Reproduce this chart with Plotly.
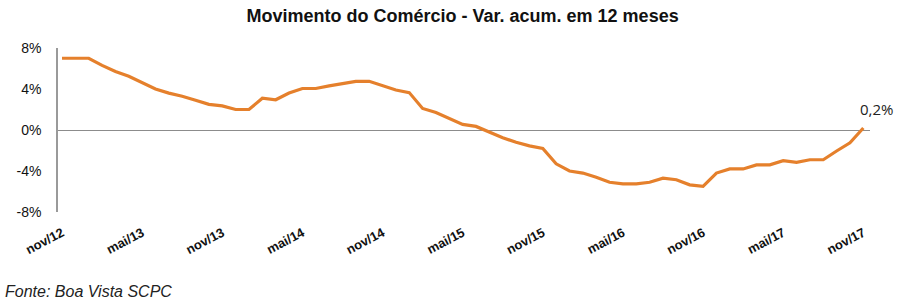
import plotly.graph_objects as go

months = ["nov/12","dez/12","jan/13","fev/13","mar/13","abr/13","mai/13","jun/13","jul/13","ago/13","set/13","out/13",
          "nov/13","dez/13","jan/14","fev/14","mar/14","abr/14","mai/14","jun/14","jul/14","ago/14","set/14","out/14",
          "nov/14","dez/14","jan/15","fev/15","mar/15","abr/15","mai/15","jun/15","jul/15","ago/15","set/15","out/15",
          "nov/15","dez/15","jan/16","fev/16","mar/16","abr/16","mai/16","jun/16","jul/16","ago/16","set/16","out/16",
          "nov/16","dez/16","jan/17","fev/17","mar/17","abr/17","mai/17","jun/17","jul/17","ago/17","set/17","out/17",
          "nov/17"]
values = [7.0, 7.0, 7.0, 6.3, 5.7, 5.25, 4.6, 4.0, 3.6, 3.3, 2.9, 2.5,
          2.35, 2.0, 2.0, 3.1, 2.95, 3.6, 4.05, 4.05, 4.3, 4.5, 4.75, 4.75,
          4.35, 3.9, 3.65, 2.1, 1.7, 1.15, 0.55, 0.35, -0.2, -0.75, -1.2, -1.55,
          -1.8, -3.3, -4.0, -4.2, -4.6, -5.1, -5.25, -5.25, -5.1, -4.7, -4.85, -5.35,
          -5.5, -4.2, -3.8, -3.8, -3.4, -3.4, -3.0, -3.15, -2.9, -2.9, -2.05, -1.25,
          0.2]
tick_labels = ["nov/12","mai/13","nov/13","mai/14","nov/14","mai/15","nov/15","mai/16","nov/16","mai/17","nov/17"]
y_ticks = [-8, -4, 0, 4, 8]
last_label = "0,2%"

x = list(range(len(months)))
tickvals = [months.index(t) for t in tick_labels]

fig = go.Figure()
fig.add_trace(go.Scatter(x=x, y=values, mode="lines",
                         line=dict(color="#E5802C", width=3.2),
                         hoverinfo="skip", cliponaxis=False))

fig.add_annotation(x=x[-1], y=values[-1], text=last_label, showarrow=False,
                   xanchor="center", yanchor="bottom", xshift=13, yshift=7,
                   font=dict(family="Open Sans, Arial", size=15, color="#222"))

fig.update_layout(
    width=900, height=301,
    margin=dict(l=58, r=30, t=48, b=89),
    paper_bgcolor="white", plot_bgcolor="white",
    showlegend=False,
    title=dict(text="<b>Movimento do Comércio - Var. acum. em 12 meses</b>",
               x=0.514, xanchor="center", y=1 - 16 / 301, yanchor="middle",
               font=dict(family="Arial", size=18, color="#111")),
)
fig.update_xaxes(range=[-0.3, 60.5], tickmode="array", tickvals=tickvals, ticktext=tick_labels,
                 tickangle=-28, showgrid=False, zeroline=False, showline=False, ticks="",
                 tickfont=dict(family="Arial", size=13, color="#111", weight="bold"),
                 ticklabelstandoff=10)
fig.update_yaxes(range=[-8, 8], tickmode="array", tickvals=y_ticks,
                 ticktext=[f"{v}%" for v in y_ticks],
                 showgrid=False, zeroline=True, zerolinecolor="#8c8c8c", zerolinewidth=1.3,
                 showline=True, linecolor="#9a9a9a", linewidth=1.5, ticks="",
                 tickfont=dict(family="Arial", size=14, color="#111"),
                 ticklabelstandoff=12)

fig.add_annotation(xref="paper", yref="paper", x=-55/812, y=-(291 - 212) / 164, xanchor="left", yanchor="middle",
                   text="<i>Fonte: Boa Vista SCPC</i>", showarrow=False,
                   font=dict(family="Arial", size=16, color="#222"))

fig.write_html("out.html")
